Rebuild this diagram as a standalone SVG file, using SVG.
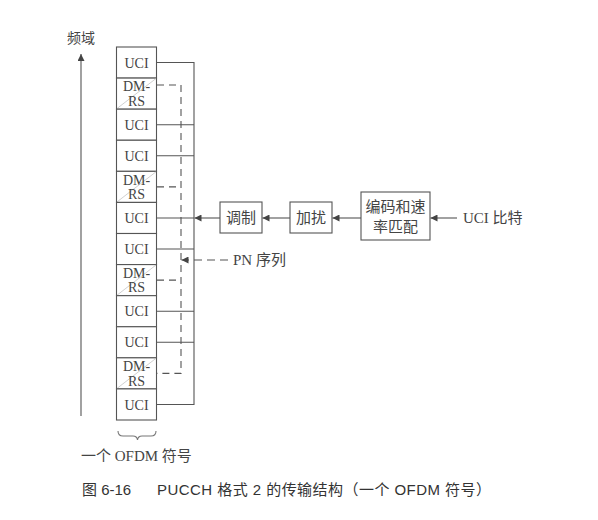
<svg xmlns="http://www.w3.org/2000/svg" width="598" height="520" viewBox="0 0 598 520">
<defs>
<style>
.ln{stroke:#555;stroke-width:1.1;fill:none}
.ds{stroke:#555;stroke-width:1.1;fill:none;stroke-dasharray:7,5}
.cell{fill:#fff;stroke:#555;stroke-width:1.1}
.hatch{stroke:#bbb;stroke-width:0.7}
.t{font-family:"Liberation Serif","Noto Sans CJK SC",serif;font-size:14px;fill:#444}
.c{text-anchor:middle}
.cap{font-family:"Liberation Sans","Noto Sans CJK SC",sans-serif;font-size:15px;fill:#333}
</style>
<marker id="ah" viewBox="0 0 10 10" refX="10" refY="5" markerWidth="9" markerHeight="7" markerUnits="userSpaceOnUse" orient="auto">
<path d="M0,0 L10,5 L0,10 Z" fill="#444"/>
</marker>
</defs>
<rect width="598" height="520" fill="#fff"/>

<g id="axis">
<line class="ln" x1="81" y1="416" x2="81" y2="54" marker-end="url(#ah)"/>
<text class="t" x="67" y="43">频域</text>
</g>

<g id="column">
<g id="r0"><rect class="cell" x="116.5" y="47" width="40" height="31.08"/><text class="t c" x="136.5" y="67.5">UCI</text></g>
<g id="r1"><rect class="cell" x="116.5" y="78.08" width="40" height="31.09"/><line class="hatch" x1="117" y1="108.5" x2="156" y2="78.5"/><text class="t c" x="136.5" y="91">DM-</text><text class="t c" x="136.5" y="105.5">RS</text></g>
<g id="r2"><rect class="cell" x="116.5" y="109.17" width="40" height="31.08"/><text class="t c" x="136.5" y="129.7">UCI</text></g>
<g id="r3"><rect class="cell" x="116.5" y="140.25" width="40" height="31.08"/><text class="t c" x="136.5" y="160.8">UCI</text></g>
<g id="r4"><rect class="cell" x="116.5" y="171.33" width="40" height="31.09"/><line class="hatch" x1="117" y1="201.9" x2="156" y2="171.8"/><text class="t c" x="136.5" y="184.5">DM-</text><text class="t c" x="136.5" y="199">RS</text></g>
<g id="r5"><rect class="cell" x="116.5" y="202.42" width="40" height="31.08"/><text class="t c" x="136.5" y="223">UCI</text></g>
<g id="r6"><rect class="cell" x="116.5" y="233.5" width="40" height="31.08"/><text class="t c" x="136.5" y="254">UCI</text></g>
<g id="r7"><rect class="cell" x="116.5" y="264.58" width="40" height="31.09"/><line class="hatch" x1="117" y1="295.2" x2="156" y2="265"/><text class="t c" x="136.5" y="277.7">DM-</text><text class="t c" x="136.5" y="292.2">RS</text></g>
<g id="r8"><rect class="cell" x="116.5" y="295.67" width="40" height="31.08"/><text class="t c" x="136.5" y="316.2">UCI</text></g>
<g id="r9"><rect class="cell" x="116.5" y="326.75" width="40" height="31.08"/><text class="t c" x="136.5" y="347.3">UCI</text></g>
<g id="r10"><rect class="cell" x="116.5" y="357.83" width="40" height="31.09"/><line class="hatch" x1="117" y1="388.4" x2="156" y2="358.3"/><text class="t c" x="136.5" y="371">DM-</text><text class="t c" x="136.5" y="385.5">RS</text></g>
<g id="r11"><rect class="cell" x="116.5" y="388.92" width="40" height="31.08"/><text class="t c" x="136.5" y="409.5">UCI</text></g>
</g>

<g id="brace">
<path class="ln" d="M118,431 Q118,436 123,436 L133,436 Q137,436 137.5,440 Q138,436 142,436 L151,436 Q156,436 156,431" style="stroke:#777"/>
<text class="t" x="81" y="461" style="font-size:15px">一个 OFDM 符号</text>
</g>

<g id="mod"><rect class="cell" x="220" y="202" width="42" height="31"/><text class="t c" x="241" y="223" style="font-size:15px">调制</text></g>
<g id="scr"><rect class="cell" x="290" y="202" width="42" height="31"/><text class="t c" x="311" y="223" style="font-size:15px">加扰</text></g>
<g id="enc"><rect class="cell" x="361" y="192" width="69" height="48"/><text class="t c" x="395.5" y="212" style="font-size:15px">编码和速</text><text class="t c" x="395.5" y="232" style="font-size:15px">率匹配</text></g>
<g id="uci"><text class="t" x="463" y="223" style="font-size:15px">UCI 比特</text></g>
<g id="pn"><text class="t" x="233" y="265" style="font-size:15px">PN 序列</text></g>

<g id="connectors">
<line class="ln" x1="156.5" y1="62.5" x2="194" y2="62.5"/>
<line class="ln" x1="156.5" y1="124.7" x2="194" y2="124.7"/>
<line class="ln" x1="156.5" y1="155.8" x2="194" y2="155.8"/>
<line class="ln" x1="156.5" y1="218" x2="194" y2="218"/>
<line class="ln" x1="156.5" y1="249" x2="194" y2="249"/>
<line class="ln" x1="156.5" y1="311.2" x2="194" y2="311.2"/>
<line class="ln" x1="156.5" y1="342.3" x2="194" y2="342.3"/>
<line class="ln" x1="156.5" y1="404.5" x2="194" y2="404.5"/>
<line class="ln" x1="194" y1="62" x2="194" y2="405"/>
<path class="ds" d="M157,85 H181 V373.4 H157"/>
<line class="ds" x1="157" y1="186.9" x2="181" y2="186.9"/>
<line class="ds" x1="157" y1="280.1" x2="181" y2="280.1"/>
<line class="ln" x1="220" y1="218" x2="194.5" y2="218" marker-end="url(#ah)"/>
<line class="ln" x1="290" y1="218" x2="262.5" y2="218" marker-end="url(#ah)"/>
<line class="ln" x1="361" y1="218" x2="332.5" y2="218" marker-end="url(#ah)"/>
<line class="ln" x1="457" y1="218" x2="430.5" y2="218" marker-end="url(#ah)"/>
<line class="ds" x1="228" y1="260" x2="181.5" y2="260" marker-end="url(#ah)" style="stroke-dasharray:8,5"/>
</g>

<g id="caption"><text class="cap" x="82" y="495">图 6-16</text><text class="cap" x="157" y="495" textLength="334" lengthAdjust="spacing">PUCCH 格式 2 的传输结构（一个 OFDM 符号）</text></g>
</svg>
